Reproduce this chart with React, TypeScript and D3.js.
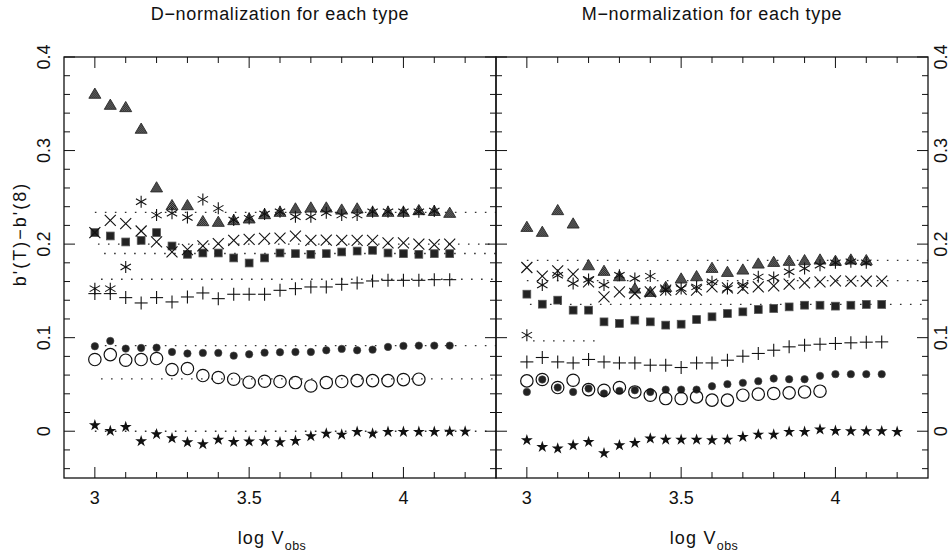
import React from "react";
import * as d3 from "d3";

// Grid of log V_obs at which every type is sampled
const logV = [3.0, 3.05, 3.1, 3.15, 3.2, 3.25, 3.3, 3.35, 3.4, 3.45, 3.5, 3.55, 3.6, 3.65, 3.7, 3.75, 3.8, 3.85, 3.9, 3.95, 4.0, 4.05, 4.1, 4.15, 4.2];

const xTicksMajor = [3, 3.5, 4];
const yTickLabels = ["0", "0.1", "0.2", "0.3", "0.4"];
const yTickValues = [0, 0.1, 0.2, 0.3, 0.4];

// D-normalization
const dTriangle = [0.3608, 0.349, 0.3465, 0.3234, 0.2607, 0.2417, 0.2417, 0.2246, 0.2239, 0.2257, 0.2275, 0.2321, 0.2346, 0.2382, 0.2392, 0.2392, 0.237, 0.2382, 0.2346, 0.2346, 0.2346, 0.2364, 0.2355, 0.2335];
const dAsterisk = [0.1524, 0.1524, 0.1755, 0.2452, 0.231, 0.233, 0.2285, 0.2478, 0.2382, 0.2257, 0.2275, 0.2321, 0.2346, 0.2292, 0.2292, 0.2335, 0.231, 0.231, 0.2346, 0.2346, 0.2346, 0.2346, 0.2355];
const dCross = [0.2123, 0.2254, 0.2219, 0.214, 0.2023, 0.1916, 0.1941, 0.198, 0.2005, 0.204, 0.205, 0.2061, 0.2065, 0.2086, 0.204, 0.2043, 0.204, 0.204, 0.204, 0.2014, 0.2014, 0.2, 0.1994, 0.2];
const dSquare = [0.2123, 0.2087, 0.2023, 0.204, 0.2123, 0.198, 0.1891, 0.1905, 0.1905, 0.1852, 0.1798, 0.1852, 0.1905, 0.1898, 0.1891, 0.1898, 0.1916, 0.1926, 0.1934, 0.1905, 0.1898, 0.1891, 0.1898, 0.1898];
const dPlus = [0.1471, 0.1471, 0.1428, 0.1371, 0.1428, 0.1382, 0.1435, 0.1478, 0.1417, 0.1464, 0.1464, 0.1464, 0.1506, 0.1524, 0.1542, 0.1542, 0.157, 0.1585, 0.1606, 0.1613, 0.1613, 0.1613, 0.162, 0.162];
const dFilled = [0.0908, 0.0965, 0.0883, 0.089, 0.0893, 0.0847, 0.083, 0.0837, 0.0837, 0.0808, 0.0822, 0.084, 0.0844, 0.0847, 0.0847, 0.0865, 0.088, 0.0865, 0.0872, 0.0901, 0.0912, 0.0915, 0.0915, 0.0915];
const dOpen = [0.0766, 0.0819, 0.0759, 0.0766, 0.0777, 0.0659, 0.067, 0.0595, 0.0574, 0.0556, 0.0524, 0.0534, 0.0531, 0.052, 0.0484, 0.052, 0.0531, 0.0541, 0.0541, 0.0541, 0.0552, 0.0556];
const dStar = [0.0064, 0.0003, 0.0046, -0.0107, -0.0032, -0.0075, -0.0118, -0.0139, -0.009, -0.0114, -0.011, -0.0107, -0.0118, -0.0103, -0.0053, -0.0025, -0.0036, -0.0007, -0.0025, -0.0007, -0.0007, -0.0007, -0.0007, -0.0004, -0.0004];
// mean levels: [value, from, to]
const dMeans: [number, number, number][] = [
  [0.2339, 3.0, 4.3],
  [0.2, 3.01, 4.3],
  [0.19, 3.03, 4.3],
  [0.1624, 3.02, 4.3],
  [0.0915, 3.0, 4.3],
  [0.0559, 3.02, 4.3],
  [0.0, 3.0, 4.3],
];

// M-normalization
const mTriangle = [0.2185, 0.2132, 0.2364, 0.2221, 0.1775, 0.1715, 0.1658, 0.1526, 0.149, 0.1543, 0.1633, 0.1658, 0.1747, 0.1704, 0.1729, 0.1793, 0.1811, 0.1822, 0.1829, 0.1836, 0.1822, 0.1836, 0.1829];
const mAsterisk = [0.1027, 0.1562, 0.1668, 0.158, 0.1622, 0.1562, 0.1668, 0.1633, 0.1658, 0.1515, 0.1526, 0.1543, 0.1597, 0.1526, 0.1562, 0.165, 0.1643, 0.1704, 0.174, 0.1775, 0.18, 0.1811, 0.18];
const mCross = [0.175, 0.1658, 0.1715, 0.1679, 0.1597, 0.1436, 0.149, 0.1472, 0.149, 0.1508, 0.1515, 0.1508, 0.1543, 0.1533, 0.1526, 0.1543, 0.1554, 0.1572, 0.1586, 0.1597, 0.1608, 0.1604, 0.1604, 0.1604];
const mSquare = [0.1465, 0.1358, 0.1401, 0.1294, 0.1294, 0.1169, 0.1152, 0.1187, 0.1169, 0.1134, 0.1144, 0.1194, 0.1223, 0.1258, 0.1276, 0.1301, 0.1312, 0.1329, 0.1347, 0.1347, 0.1337, 0.1347, 0.1355, 0.1355];
const mPlus = [0.0741, 0.0788, 0.0741, 0.073, 0.0767, 0.0741, 0.073, 0.073, 0.0706, 0.0706, 0.0681, 0.073, 0.073, 0.0759, 0.0802, 0.0831, 0.0866, 0.0902, 0.092, 0.093, 0.0938, 0.0945, 0.0952, 0.0955];
const mFilled = [0.042, 0.0553, 0.0467, 0.042, 0.0456, 0.0403, 0.0431, 0.0438, 0.042, 0.0445, 0.0445, 0.0445, 0.0481, 0.0503, 0.0517, 0.0535, 0.0563, 0.0556, 0.0556, 0.0592, 0.061, 0.061, 0.061, 0.061];
const mOpen = [0.0538, 0.0553, 0.0467, 0.0545, 0.0445, 0.0438, 0.0467, 0.042, 0.0385, 0.0349, 0.0349, 0.0367, 0.0332, 0.0332, 0.0385, 0.0396, 0.0403, 0.041, 0.042, 0.0428];
const mStar = [-0.0096, -0.0168, -0.0185, -0.015, -0.0114, -0.0235, -0.015, -0.0125, -0.0078, -0.009, -0.009, -0.009, -0.0096, -0.009, -0.006, -0.0036, -0.0036, -0.0007, -0.0007, 0.0018, 0.0004, 0.0, 0.0, 0.0, -0.0007];
const mMeans: [number, number, number][] = [
  [0.1826, 3.0, 4.3],
  [0.161, 3.0, 4.3],
  [0.1356, 3.01, 4.3],
  [0.0966, 3.02, 3.23],
];

const W = 952;
const H = 554;
const TOP = 57;
const BOTTOM = 478;
const FONT = "'Liberation Sans', Arial, sans-serif";

const yScale = d3.scaleLinear().domain([-0.05, 0.4]).range([BOTTOM, TOP]);

type Kind = "triangle" | "asterisk" | "cross" | "square" | "plus" | "filled" | "open" | "star";

const starPath = d3.symbol().type(d3.symbolStar).size(44)() as string;

function Marker({ kind, cx, cy }: { kind: Kind; cx: number; cy: number }) {
  const t = `translate(${cx},${cy})`;
  switch (kind) {
    case "triangle":
      return <path transform={t} d="M0,-5.6L6,4.6L-6,4.6Z" fill="url(#stipple)" stroke="#2a2a2a" strokeWidth={0.9} />;
    case "asterisk": {
      const r = 6;
      const a = r * Math.cos(Math.PI / 6);
      const b = r * Math.sin(Math.PI / 6);
      return (
        <g transform={t} stroke="#111" strokeWidth={1.1}>
          <line x1={0} y1={-r} x2={0} y2={r} />
          <line x1={-a} y1={-b} x2={a} y2={b} />
          <line x1={-a} y1={b} x2={a} y2={-b} />
        </g>
      );
    }
    case "cross":
      return (
        <g transform={t} stroke="#111" strokeWidth={1.1}>
          <line x1={-5.5} y1={-5.5} x2={5.5} y2={5.5} />
          <line x1={-5.5} y1={5.5} x2={5.5} y2={-5.5} />
        </g>
      );
    case "square":
      return <rect x={cx - 3.9} y={cy - 3.9} width={7.8} height={7.8} fill="#222" stroke="#555" strokeWidth={0.8} />;
    case "plus":
      return (
        <g transform={t} stroke="#111" strokeWidth={1.1}>
          <line x1={-6.5} y1={0} x2={6.5} y2={0} />
          <line x1={0} y1={-6.5} x2={0} y2={6.5} />
        </g>
      );
    case "filled":
      return <circle cx={cx} cy={cy} r={3.7} fill="#222" stroke="#444" strokeWidth={0.6} />;
    case "open":
      return <circle cx={cx} cy={cy} r={6.2} fill="none" stroke="#111" strokeWidth={1.2} />;
    case "star":
      return <path transform={t} d={starPath} fill="#111" />;
  }
}

type Series = { kind: Kind; values: number[] };

function Panel({
  left,
  right,
  title,
  series,
  means,
  labelSide,
}: {
  left: number;
  right: number;
  title: string;
  series: Series[];
  means: [number, number, number][];
  labelSide: "left" | "right";
}) {
  const x = d3.scaleLinear().domain([2.9, 4.3]).range([left, right]);
  const xMinor = d3.range(30, 43).map((k) => k / 10);
  const yMinor = d3.range(-2, 21).map((k) => k / 50);
  const cx = (left + right) / 2;
  const labelX = labelSide === "left" ? left - 14 : right + 19;
  return (
    <g>
      <text x={cx} y={20} textAnchor="middle" fontFamily={FONT} fontSize={18} letterSpacing={0.65} fill="#111">
        {title}
      </text>
      {/* mean levels */}
      {means.map(([v, a, b], i) => (
        <line key={`m${i}`} x1={x(a)} x2={x(b)} y1={yScale(v)} y2={yScale(v)} stroke="#333" strokeWidth={1.4} strokeDasharray="1.6 8.4" />
      ))}
      {/* data points */}
      {series.map((s, si) =>
        s.values.map((v, i) => <Marker key={`${si}-${i}`} kind={s.kind} cx={x(logV[i])} cy={yScale(v)} />)
      )}
      {/* frame */}
      <rect x={left} y={TOP} width={right - left} height={BOTTOM - TOP} fill="none" stroke="#111" strokeWidth={1.3} />
      {/* x ticks */}
      {xMinor.map((v) => {
        const major = xTicksMajor.some((m) => Math.abs(m - v) < 1e-6);
        const len = major ? 11 : 6;
        return (
          <g key={`xt${v}`} stroke="#111" strokeWidth={1}>
            <line x1={x(v)} x2={x(v)} y1={BOTTOM} y2={BOTTOM - len} />
            <line x1={x(v)} x2={x(v)} y1={TOP} y2={TOP + len} />
          </g>
        );
      })}
      {/* y ticks */}
      {yMinor.map((v) => {
        const major = Math.abs(v * 10 - Math.round(v * 10)) < 1e-6;
        const len = major ? 11 : 6;
        return (
          <g key={`yt${v}`} stroke="#111" strokeWidth={1}>
            <line x1={left} x2={left + len} y1={yScale(v)} y2={yScale(v)} />
            <line x1={right} x2={right - len} y1={yScale(v)} y2={yScale(v)} />
          </g>
        );
      })}
      {xTicksMajor.map((v) => (
        <text key={`xl${v}`} x={x(v)} y={504} textAnchor="middle" fontFamily={FONT} fontSize={18} fill="#111">
          {String(v)}
        </text>
      ))}
      {yTickValues.map((v, i) => (
        <text
          key={`yl${v}`}
          transform={`translate(${labelX},${yScale(v)}) rotate(-90)`}
          textAnchor="middle"
          fontFamily={FONT}
          fontSize={18}
          fill="#111"
        >
          {yTickLabels[i]}
        </text>
      ))}
      <text x={cx - 8} y={544} textAnchor="middle" fontFamily={FONT} fontSize={18} letterSpacing={1.2} fill="#111">
        log V
        <tspan fontSize={12.5} dy={6} letterSpacing={0.5}>obs</tspan>
      </text>
    </g>
  );
}

export default function App() {
  const dSeries: Series[] = [
    { kind: "triangle", values: dTriangle },
    { kind: "asterisk", values: dAsterisk },
    { kind: "square", values: dSquare },
    { kind: "cross", values: dCross },
    { kind: "plus", values: dPlus },
    { kind: "filled", values: dFilled },
    { kind: "open", values: dOpen },
    { kind: "star", values: dStar },
  ];
  const mSeries: Series[] = [
    { kind: "triangle", values: mTriangle },
    { kind: "asterisk", values: mAsterisk },
    { kind: "square", values: mSquare },
    { kind: "cross", values: mCross },
    { kind: "plus", values: mPlus },
    { kind: "filled", values: mFilled },
    { kind: "open", values: mOpen },
    { kind: "star", values: mStar },
  ];
  return (
    <svg width={W} height={H} viewBox={`0 0 ${W} ${H}`} style={{ position: "absolute", left: 0, top: 0, background: "#fff" }}>
      <defs>
        <pattern id="stipple" width={2} height={2} patternUnits="userSpaceOnUse">
          <rect width={2} height={2} fill="#7a7a7a" />
          <rect width={1} height={1} fill="#1e1e1e" />
          <rect x={1} y={1} width={1} height={1} fill="#1e1e1e" />
        </pattern>
      </defs>
      <rect width={W} height={H} fill="#fff" />
      <Panel left={64} right={496} title="D−normalization for each type" series={dSeries} means={dMeans} labelSide="left" />
      <Panel left={496} right={928} title="M−normalization for each type" series={mSeries} means={mMeans} labelSide="right" />
      <text
        transform={`translate(26,234) rotate(-90)`}
        textAnchor="middle"
        fontFamily={FONT}
        fontSize={18}
        letterSpacing={2}
        fill="#111"
      >
        b'(T)−b'(8)
      </text>
    </svg>
  );
}
